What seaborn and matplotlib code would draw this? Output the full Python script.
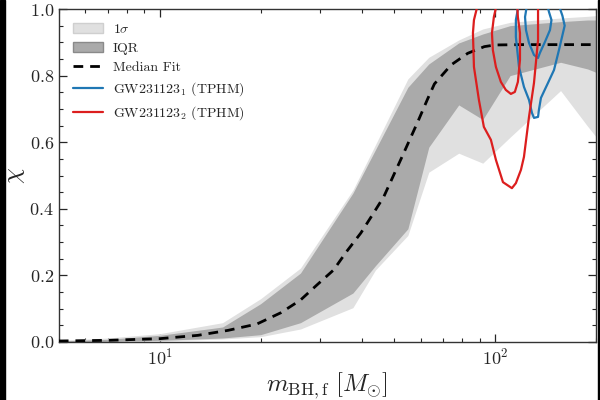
import numpy as np
import pandas as pd
import seaborn as sns
import matplotlib
matplotlib.use("Agg")
import matplotlib.pyplot as plt
from matplotlib.patches import Patch, Rectangle
from matplotlib.lines import Line2D
from matplotlib.ticker import LogLocator, MultipleLocator, NullFormatter

# ---------------- data ----------------
band_mass = [5, 7, 10, 15.4, 20, 26.3, 37.7, 44, 55, 63.5, 78, 92, 111, 157, 189, 200]
sigma_lo = [0.0, 0.001, 0.003, 0.009, 0.016, 0.039, 0.103, 0.216, 0.32, 0.51, 0.567, 0.537, 0.615, 0.755, 0.648, 0.617]
iqr_lo = [0.0, 0.002, 0.005, 0.012, 0.022, 0.058, 0.147, 0.229, 0.34, 0.585, 0.712, 0.668, 0.80, 0.84, 0.82, 0.81]
iqr_hi = [0.003, 0.008, 0.02, 0.045, 0.115, 0.207, 0.447, 0.577, 0.765, 0.835, 0.898, 0.925, 0.95, 0.962, 0.967, 0.967]
sigma_hi = [0.005, 0.012, 0.025, 0.058, 0.13, 0.222, 0.456, 0.592, 0.79, 0.855, 0.907, 0.94, 0.96, 0.973, 0.978, 0.98]

median_mass = [5, 7, 10, 13, 16, 19.5, 23, 26.3, 29.5, 33, 36, 39.8, 43, 46.6, 52.5, 58.8, 63, 66, 74, 83, 93, 100, 120, 150, 200]
median_chi = [0.003, 0.005, 0.010, 0.02, 0.035, 0.054, 0.088, 0.126, 0.172, 0.216, 0.27, 0.327, 0.38, 0.436, 0.55, 0.66, 0.73, 0.775, 0.832, 0.867, 0.887, 0.892, 0.893, 0.893, 0.893]

# GW231123_1 (blue) contours
gw1_outer_mass = [117.1, 115.5, 115.5, 118.0, 122.1, 126.4, 129.0, 130.8, 134.5, 135.3, 137.2, 144.0, 150.1, 155.3, 159.6, 161.5, 159.0, 156.5, 150.0, 135.0, 118.0, 117.1]
gw1_outer_chi = [1.0, 0.967, 0.916, 0.826, 0.766, 0.727, 0.688, 0.673, 0.676, 0.697, 0.733, 0.778, 0.817, 0.877, 0.928, 0.95, 0.98, 1.0, 1.05, 1.07, 1.04, 1.0]
gw1_inner_mass = [125.5, 123.0, 123.8, 126.4, 130.8, 134.5, 136.2, 141.0, 146.0, 147.5, 145.0, 142.0, 133.0, 125.5]
gw1_inner_chi = [1.03, 0.976, 0.937, 0.898, 0.862, 0.853, 0.868, 0.901, 0.937, 0.967, 0.991, 1.03, 1.06, 1.03]

# GW231123_2 (red) contours
gw2_outer_mass = [89.6, 86.6, 86.0, 86.6, 89.6, 92.7, 97.3, 100.7, 105.7, 112.4, 115.5, 119.6, 122.1, 126.4, 130.8, 134.5, 134.5, 133.6, 120.0, 100.0, 89.6]
gw2_outer_chi = [1.027, 0.967, 0.928, 0.826, 0.727, 0.646, 0.607, 0.547, 0.480, 0.462, 0.477, 0.517, 0.556, 0.676, 0.778, 0.907, 0.997, 1.027, 1.09, 1.08, 1.027]
gw2_inner_mass = [102.1, 99.3, 98.0, 98.6, 100.7, 104.2, 107.8, 111.6, 114.7, 117.1, 118.8, 118.8, 117.1, 116.3, 109.0, 102.1]
gw2_inner_chi = [1.03, 0.976, 0.928, 0.877, 0.826, 0.781, 0.757, 0.745, 0.751, 0.781, 0.847, 0.928, 0.976, 1.03, 1.08, 1.03]

y_ticks = [0.0, 0.2, 0.4, 0.6, 0.8, 1.0]

# ---------------- style ----------------
sns.set_style("ticks")
plt.rcParams["font.family"] = ["serif"]
plt.rcParams["font.serif"] = ["cmr10", "DejaVu Serif"]
plt.rcParams["mathtext.fontset"] = "cm"
plt.rcParams["axes.formatter.use_mathtext"] = True
plt.rcParams["axes.unicode_minus"] = False

fig = plt.figure(figsize=(6, 4), dpi=100)
ax = fig.add_axes([0.098, 0.145, 0.895, 0.8325])

light = "#e0e0e0"
dark = "#aaaaaa"
blue = "#1f77b4"
red = "#dc1e1e"

bands = pd.DataFrame({"m": band_mass, "slo": sigma_lo, "ilo": iqr_lo, "ihi": iqr_hi, "shi": sigma_hi})
ax.fill_between(bands["m"], bands["slo"], bands["shi"], color=light, lw=0, zorder=1)
ax.fill_between(bands["m"], bands["ilo"], bands["ihi"], color=dark, lw=0, zorder=2)

sns.lineplot(x=median_mass, y=median_chi, ax=ax, color="black", lw=2.0,
             linestyle=(0, (3.5, 2.5)), zorder=5, legend=False)

for xs, ys, c in [(gw1_outer_mass, gw1_outer_chi, blue), (gw1_inner_mass, gw1_inner_chi, blue),
                  (gw2_outer_mass, gw2_outer_chi, red), (gw2_inner_mass, gw2_inner_chi, red)]:
    sns.lineplot(x=xs, y=ys, sort=False, estimator=None, ax=ax, color=c, lw=1.6,
                 zorder=6, legend=False)

ax.set_xscale("log")
ax.set_xlim(5, 200)
ax.set_ylim(0, 1)
ax.set_yticks(y_ticks)
ax.yaxis.set_minor_locator(MultipleLocator(0.05))
ax.xaxis.set_major_locator(LogLocator(base=10))
ax.xaxis.set_minor_locator(LogLocator(base=10, subs=np.arange(2, 10)))
ax.xaxis.set_minor_formatter(NullFormatter())
ax.tick_params(which="both", direction="in", top=True, right=True, labelsize=13)
ax.tick_params(which="major", length=6, width=0.9)
ax.tick_params(which="minor", length=3, width=0.8)
for s in ax.spines.values():
    s.set_linewidth(1.0)
    s.set_color("#333333")

ax.set_xlabel(r"$m_{\rm BH,f}\ [M_{\odot}]$", fontsize=18, labelpad=2)
ax.set_ylabel(r"$\chi$", fontsize=18, labelpad=2)

handles = [
    Patch(facecolor=light, edgecolor="#cfcfcf", label=r"$1\sigma$"),
    Patch(facecolor=dark, edgecolor="#8a8a8a", label="IQR"),
    Line2D([], [], color="black", lw=2.0, linestyle=(0, (3.5, 2.5)), label="Median Fit"),
    Line2D([], [], color=blue, lw=1.6, label=r"GW231123$_1$ (TPHM)"),
    Line2D([], [], color=red, lw=1.6, label=r"GW231123$_2$ (TPHM)"),
]
ax.legend(handles=handles, loc="upper left", frameon=False, fontsize=10,
          handlelength=2.2, handletextpad=0.7, labelspacing=0.45, borderaxespad=0.6)

# black side strips as in reference
fig.add_artist(Rectangle((0, 0), 5 / 600, 1, transform=fig.transFigure, color="black", zorder=10))
fig.add_artist(Rectangle((598 / 600, 0), 2 / 600, 1, transform=fig.transFigure, color="black", zorder=10))

fig.savefig("out.png", dpi=100)
